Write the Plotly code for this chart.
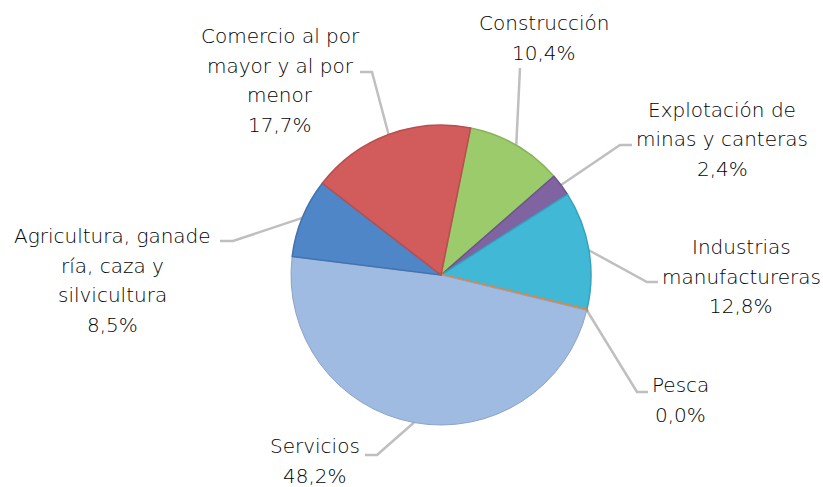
import math
import plotly.graph_objects as go

# ---------------- data ----------------
categories = [
    "Construcción",
    "Explotación de minas y canteras",
    "Industrias manufactureras",
    "Pesca",
    "Servicios",
    "Agricultura, ganadería, caza y silvicultura",
    "Comercio al por mayor y al por menor",
]
label_lines = [
    ["Construcción"],
    ["Explotación de", "minas y canteras"],
    ["Industrias", "manufactureras"],
    ["Pesca"],
    ["Servicios"],
    ["Agricultura, ganade", "ría, caza y", "silvicultura"],
    ["Comercio al por", "mayor y al por", "menor"],
]
values = [10.4, 2.4, 12.8, 0.03, 48.2, 8.5, 17.7]

# ---------------- style ----------------
colors = ["#9CCB6C", "#8064A2", "#41B9D6", "#E8822F", "#A0BBE1", "#4F86C8", "#D25B5B"]
edge_colors = ["#88B35B", "#6C548C", "#35A2BC", "#E8822F", "#8AA3C9", "#4373AE", "#B94E4E"]
edge_widths = [1.5, 1.5, 1.5, 3.2, 1.0, 1.5, 1.5]

W, H = 823, 487
CX, CY, R = 441, 275, 150
ROTATION = 11.4
FONT = "DejaVu Sans"
FS = 20
LINE_H = 29.5

# label layout: text centre x, first line y, leader-line bend points (pixels)
label_layout = [
    dict(cx=544, y0=23, pts=[(520, 68)]),
    dict(cx=722, y0=110, pts=[(620, 145), (632, 145)]),
    dict(cx=741, y0=247, pts=[(647, 282), (658, 282)]),
    dict(cx=680, y0=385, pts=[(637, 392), (648, 392)]),
    dict(cx=315, y0=446, pts=[(377, 455), (365, 455)]),
    dict(cx=112, y0=236, pts=[(233, 241), (220, 241)]),
    dict(cx=280, y0=36, pts=[(372, 72), (360, 72)]),
]


def px(x):
    return x / W


def py(y):
    return 1 - y / H


fig = go.Figure(
    go.Pie(
        labels=categories,
        values=values,
        sort=False,
        direction="clockwise",
        rotation=ROTATION,
        textinfo="none",
        hoverinfo="label+percent",
        marker=dict(colors=colors, line=dict(color=edge_colors, width=edge_widths)),
        domain=dict(x=[px(CX - R), px(CX + R)], y=[py(CY + R), py(CY - R)]),
        showlegend=False,
    )
)

total = sum(values)
annotations = []
shapes = []
cum = 0.0
for cat_lines, v, lay in zip(label_lines, values, label_layout):
    pct = v / total * 100
    mid = ROTATION + (cum + v / 2) / total * 360
    cum += v
    a = math.radians(mid)
    ex, ey = CX + R * math.sin(a), CY - R * math.cos(a)
    pts = [(ex, ey)] + lay["pts"]
    path = "M " + " L ".join(f"{px(x):.5f},{py(y):.5f}" for x, y in pts)
    shapes.append(dict(type="path", xref="paper", yref="paper", path=path,
                       line=dict(color="#BFBFBF", width=2.5), layer="below"))
    lines = cat_lines + [f"{pct:.1f}".replace(".", ",") + "%"]
    for i, t in enumerate(lines):
        annotations.append(dict(
            x=px(lay["cx"]), y=py(lay["y0"] + i * LINE_H), xref="paper", yref="paper",
            text=t, showarrow=False, xanchor="center", yanchor="middle",
            font=dict(family=FONT, size=FS, color="#000000", weight=300),
        ))

fig.update_layout(
    width=W, height=H,
    margin=dict(l=0, r=0, t=0, b=0),
    paper_bgcolor="white", plot_bgcolor="white",
    annotations=annotations, shapes=shapes,
)

fig.write_html(
    "out.html",
    config={"displayModeBar": False},
    post_script="document.body.style.margin='0';document.body.style.padding='0';",
)
